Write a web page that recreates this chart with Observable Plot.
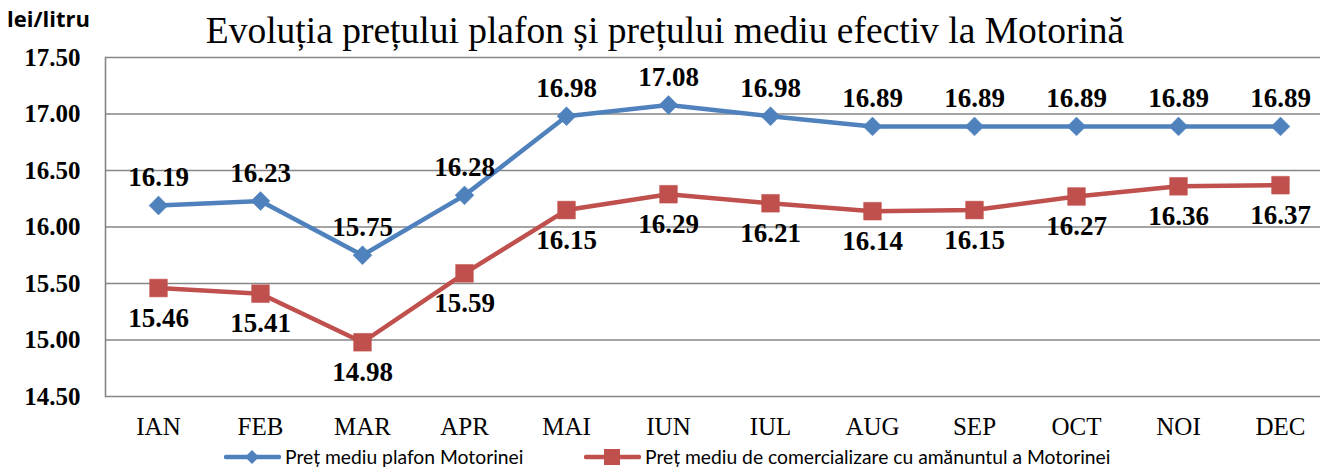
<!DOCTYPE html>
<html>
<head>
<meta charset="utf-8">
<script src="https://cdn.jsdelivr.net/npm/d3@7"></script>
<script src="https://cdn.jsdelivr.net/npm/@observablehq/plot@0.6"></script>
<style>
  html, body { margin: 0; padding: 0; background: #fff; }
  #wrap { position: relative; width: 1320px; height: 468px; overflow: hidden; }
  #wrap svg.plot { position: absolute; left: 0; top: 0; }
  .title { position: absolute; left: 0; width: 1330px; top: 9px; text-align: center;
           font-family: "Liberation Serif", "Times New Roman", serif; font-size: 37.5px; color: #000; line-height: 44px; white-space: nowrap; }
  .ylab { position: absolute; left: 7px; top: 3px; font-family: "Open Sans", Lato, sans-serif; font-weight: bold; font-size: 22px; color: #000; line-height: 30px; }
  .legend { position: absolute; top: 446px; font-family: Lato, "Noto Sans", sans-serif; font-size: 19.3px; color: #000; display: flex; align-items: center; white-space: nowrap; line-height: 22px; }
  .legend svg { margin-right: 4px; }
</style>
</head>
<body>
<div id="wrap"></div>
<script>
const months = ["IAN", "FEB", "MAR", "APR", "MAI", "IUN", "IUL", "AUG", "SEP", "OCT", "NOI", "DEC"];
const pretPlafon = [16.19, 16.23, 15.75, 16.28, 16.98, 17.08, 16.98, 16.89, 16.89, 16.89, 16.89, 16.89];
const pretMediu = [15.46, 15.41, 14.98, 15.59, 16.15, 16.29, 16.21, 16.14, 16.15, 16.27, 16.36, 16.37];
const yTicks = [14.5, 15.0, 15.5, 16.0, 16.5, 17.0, 17.5];
const seriesNames = ["Preț mediu plafon Motorinei", "Preț mediu de comercializare cu amănuntul a Motorinei"];
const titleText = "Evoluția prețului plafon și prețului mediu efectiv la Motorină";
const yUnit = "lei/litru";

const blue = "#4F81BD", red = "#C0504D";
const serif = "'Liberation Serif', 'Times New Roman', serif";

const d1 = months.map((m, i) => ({m, v: pretPlafon[i]}));
const d2 = months.map((m, i) => ({m, v: pretMediu[i]}));

const chart = Plot.plot({
  width: 1320,
  height: 468,
  marginTop: 57,
  marginBottom: 72,
  marginLeft: 105,
  marginRight: 0,
  x: {type: "point", domain: months, range: [105, 1332], padding: 0.5, align: 0.5},
  y: {domain: [14.5, 17.5], range: [396, 57]},
  style: {fontFamily: serif, background: "transparent"},
  marks: [
    Plot.ruleY(yTicks, {stroke: "#868686", strokeWidth: 1.6}),
    Plot.frame({anchor: "left", stroke: "#868686", strokeWidth: 1.6}),
    Plot.axisY({ticks: yTicks, tickSize: 0, tickPadding: 25, tickFormat: d => d.toFixed(2),
                fontSize: 25, fontWeight: "bold", fontFamily: serif, label: null, fill: "#000"}),
    Plot.axisX({tickSize: 0, tickPadding: 21, fontSize: 25, fontFamily: serif, label: null, fill: "#000"}),
    Plot.line(d2, {x: "m", y: "v", stroke: red, strokeWidth: 4.5}),
    Plot.dot(d2, {x: "m", y: "v", symbol: "square", r: 10, fill: red, stroke: red, strokeWidth: 0.5}),
    Plot.line(d1, {x: "m", y: "v", stroke: blue, strokeWidth: 4.5}),
    Plot.dot(d1, {x: "m", y: "v", symbol: "diamond2", r: 8.5, fill: blue, stroke: blue, strokeWidth: 0.5}),
    Plot.text(d1, {x: "m", y: "v", text: d => d.v.toFixed(2), dy: -28, fontSize: 27, fontWeight: "bold", fontFamily: serif, fill: "#000"}),
    Plot.text(d2, {x: "m", y: "v", text: d => d.v.toFixed(2), dy: 30, fontSize: 27, fontWeight: "bold", fontFamily: serif, fill: "#000"})
  ]
});
chart.classList.add("plot");

const wrap = document.getElementById("wrap");
wrap.appendChild(chart);

const t = document.createElement("div");
t.className = "title"; t.textContent = titleText; wrap.appendChild(t);
const yl = document.createElement("div");
yl.className = "ylab"; yl.textContent = yUnit; wrap.appendChild(yl);

function legendItem(left, color, shape, label) {
  const div = document.createElement("div");
  div.className = "legend";
  div.style.left = left + "px";
  const s = d3.create("svg").attr("width", 57).attr("height", 20);
  s.append("line").attr("x1", 2).attr("x2", 55).attr("y1", 10).attr("y2", 10)
    .attr("stroke", color).attr("stroke-width", 4.5).attr("stroke-linecap", "round");
  if (shape === "diamond") {
    s.append("path").attr("d", "M28,3L35,10L28,17L21,10Z").attr("fill", color);
  } else {
    s.append("rect").attr("x", 20).attr("y", 2).attr("width", 16).attr("height", 16).attr("fill", color);
  }
  div.appendChild(s.node());
  const sp = document.createElement("span");
  sp.textContent = label;
  div.appendChild(sp);
  wrap.appendChild(div);
}
legendItem(224, blue, "diamond", seriesNames[0]);
legendItem(584, red, "square", seriesNames[1]);
</script>
</body>
</html>
